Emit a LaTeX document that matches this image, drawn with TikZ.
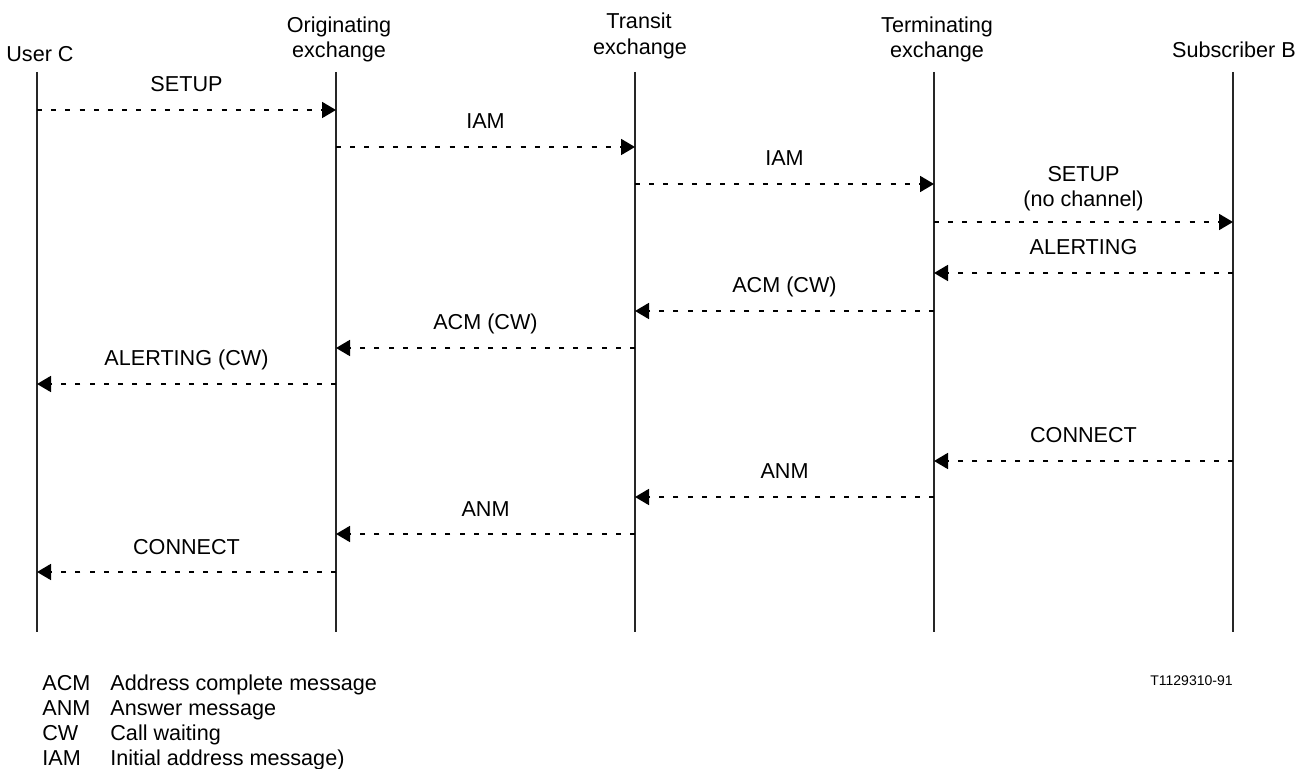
\documentclass[tikz,border=0pt]{standalone}
\usepackage{fontspec}
\setmainfont{Liberation Sans}
\usetikzlibrary{arrows.meta}
\begin{document}
\begin{tikzpicture}[x=0.5pt,y=-0.5pt,
  every node/.style={font=\fontsize{10.8}{12.5}\selectfont, inner sep=0pt},
  life/.style={line width=0.6pt, black!85},
  msg/.style={line width=0.9pt, dash pattern=on 2.5pt off 4.6pt, -{Triangle[length=7pt,width=8pt]}},
  lbl/.style={anchor=base},
  hdr/.style={anchor=base},
  leg/.style={anchor=base west}]
\useasboundingbox (0,0) rectangle (1310,769);
% lifelines
\foreach \n/\x in {u/37, o/336, t/635, e/934, s/1233} {
  \coordinate (\n top) at (\x,72);
  \coordinate (\n bot) at (\x,632);
  \draw[life] (\n top) -- (\n bot);
}
% headers
\node[hdr] (hu) at (40,62) {User C};
\node[hdr] (ho1) at (339,33) {Originating};
\node[hdr] (ho2) at (339,58) {exchange};
\node[hdr] (ht1) at (639,29) {Transit};
\node[hdr] (ht2) at (640,55) {exchange};
\node[hdr] (he1) at (937,33) {Terminating};
\node[hdr] (he2) at (937,58) {exchange};
\node[hdr] (hs) at (1234,58) {Subscriber B};
% messages
\foreach \i/\xa/\xb/\y/\t in {
  1/37/336/110/SETUP,
  2/336/635/147/IAM,
  3/635/934/184/IAM,
  5/1233/934/273/ALERTING,
  6/934/635/311/ACM (CW),
  7/635/336/348/ACM (CW),
  8/336/37/384/ALERTING (CW),
  9/1233/934/461/CONNECT,
  10/934/635/497/ANM,
  11/635/336/534/ANM,
  12/336/37/572/CONNECT} {
  \coordinate (m\i a) at (\xa,\y);
  \coordinate (m\i b) at (\xb,\y);
  \draw[msg] (m\i a) -- (m\i b);
  \node[lbl] (l\i) at ({(\xa+\xb)/2},{\y-18}) {\t};
}
\coordinate (m4a) at (934,222);
\coordinate (m4b) at (1233,222);
\draw[msg] (m4a) -- (m4b);
\node[lbl] (l4a) at (1083.5,182) {SETUP};
\node[lbl] (l4b) at (1083.5,207) {(no channel)};
% figure number
\node[anchor=base east, font=\fontsize{7}{8}\selectfont] (fig) at (1233,685) {T1129310-91};
% legend
\foreach \j/\a/\d/\y in {1/ACM/Address complete message/690, 2/ANM/Answer message/715, 3/CW/Call waiting/740, 4/IAM/Initial address message)/765} {
  \node[leg] (ab\j) at (42,\y) {\a};
  \node[leg] (de\j) at (110,\y) {\d};
}
\end{tikzpicture}
\end{document}
